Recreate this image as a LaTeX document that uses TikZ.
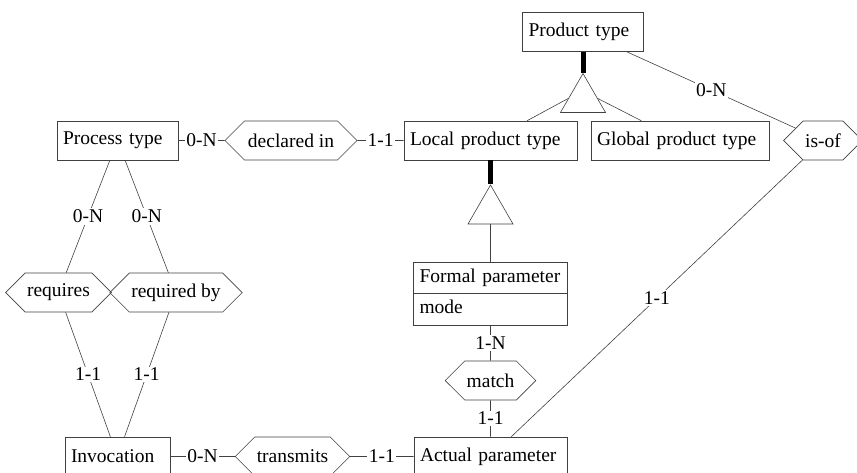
\documentclass[tikz,border=0pt]{standalone}
\usepackage{fontspec}
\setmainfont{Liberation Serif}
\usetikzlibrary{shapes.symbols,shapes.geometric,shapes.multipart,calc}

\tikzset{
  ent/.style={draw, rectangle, minimum height=39pt, inner xsep=6pt, inner ysep=0pt, align=left},
  entattr/.style={draw, rectangle split, rectangle split parts=2, inner xsep=6pt, inner ysep=4pt, align=left},
  rel/.style={draw, signal, signal to=west and east, signal pointer angle=90, minimum height=39pt, inner xsep=2pt, inner ysep=0pt},
  isa/.style={draw, regular polygon, regular polygon sides=3, minimum size=52pt, inner sep=0pt},
  card/.style={fill=white, inner sep=1.5pt, text=black},
  isabar/.style={line width=5pt, draw=black}
}

\begin{document}
\begin{tikzpicture}[x=1pt, y=-1pt, font=\fontsize{19.5}{23}\selectfont, line width=0.6pt, draw=black!75]
            \useasboundingbox (0,0) rectangle (857,472);

            \begin{scope}[every node/.style={ent}]
                \node[text width=109pt] (pt) at (583,32) {Product type};
                \node[text width=161pt] (lpt) at (490.5,140.5) {Local product type};
                \node[text width=166pt] (gpt) at (680,140.5) {Global product type};
                \node[text width=109pt] (prt) at (117.5,140.5) {Process type};
                \node[text width=93pt] (inv) at (117.5,456.5) {Invocation};
                \node[text width=141pt] (ap) at (490.5,456.5) {Actual parameter};
            \end{scope}

            \node[entattr, text width=142pt] (fp) at (490.5,293.5) {\strut Formal parameter \nodepart{two} \strut mode};

            \begin{scope}[every node/.style={rel}]
                \node[minimum width=132pt] (di) at (291,140.5) {declared in};
                \node[minimum width=66pt] (isof) at (823,140.5) {is-of};
                \node[minimum width=99pt] (req) at (58.5,292.5) {requires};
                \node[minimum width=126pt] (reqby) at (176,292.5) {required by};
                \node[minimum width=89pt] (match) at (490.5,380.5) {match};
                \node[minimum width=111pt] (trans) at (292.5,456.5) {transmits};
            \end{scope}

            \node[isa] (isa1) at (583,99.5) {};
            \node[isa] (isa2) at (490.5,211) {};
            \coordinate (isa1l) at ($(isa1.corner 1)!0.64!(isa1.corner 2)$);
            \coordinate (isa1r) at ($(isa1.corner 1)!0.64!(isa1.corner 3)$);

            \begin{scope}
                \path (prt) edge node[card] {0-N} (di);
                \path (di) edge node[card] {1-1} (lpt);
                \path (pt) edge node[card] {0-N} (isof);
                \path (isof) edge node[card] {1-1} (ap);

                \path (prt) edge node[card] {0-N} (req);
                \path (prt) edge node[card] {0-N} (reqby);
                \path (req) edge node[card] {1-1} (inv);
                \path (reqby) edge node[card] {1-1} (inv);

                \path (fp) edge node[card] {1-N} (match);
                \path (match) edge node[card] {1-1} (ap);
                \path (inv) edge node[card] {0-N} (trans);
                \path (trans) edge node[card] {1-1} (ap);

                \path [isabar] (pt) edge (isa1.corner 1);
                \path (lpt) edge (isa1l);
                \path (gpt) edge (isa1r);
                \path [isabar] (lpt) edge (isa2.corner 1);
                \path (isa2.side 2) edge (fp);
            \end{scope}
\end{tikzpicture}
\end{document}
